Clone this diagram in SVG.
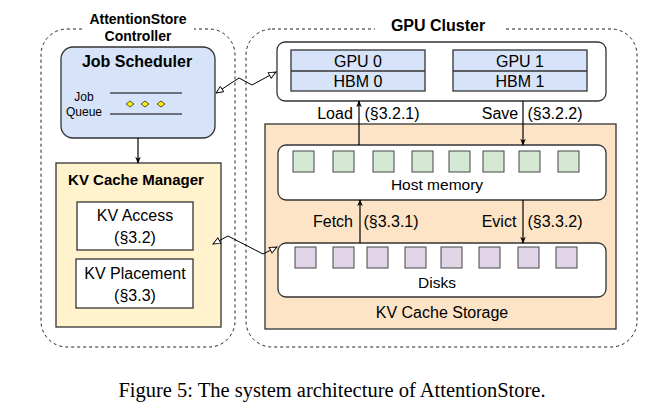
<svg xmlns="http://www.w3.org/2000/svg" width="664" height="420" viewBox="0 0 664 420">
<style>
text{font-family:"Liberation Sans",Arial,sans-serif;fill:#000;text-anchor:middle;dominant-baseline:central}
.b{font-weight:bold}
.dash{fill:none;stroke:#222;stroke-width:1;stroke-dasharray:3 3}
.box{stroke:#333;stroke-width:1.3}
.sq{stroke:#444;stroke-width:1}
.ln{fill:none;stroke:#000;stroke-width:1.2}
.cap{font-family:"Liberation Serif","Times New Roman",serif;font-size:20.5px}
</style>
<defs>
<marker id="a" viewBox="0 0 10 10" refX="9" refY="5" markerWidth="7" markerHeight="7" orient="auto" markerUnits="userSpaceOnUse">
<path d="M0,1 L10,5 L0,9 L3,5 Z" fill="#000"/>
</marker>
<marker id="o" viewBox="0 0 10 10" refX="9" refY="5" markerWidth="9" markerHeight="9" orient="auto" markerUnits="userSpaceOnUse">
<path d="M1,1.5 L9,5 L1,8.5 Z" fill="#fff" stroke="#000" stroke-width="1"/>
</marker>
</defs>

<g id="controller">
<rect class="dash" x="41" y="29" width="194" height="318" rx="26"/>
<rect x="82" y="9" width="112" height="38" fill="#fff"/>
<text class="b" x="138" y="19" font-size="14">AttentionStore</text>
<text class="b" x="138" y="36" font-size="14">Controller</text>
</g>

<g id="gpu-cluster">
<rect class="dash" x="246" y="29" width="391" height="318" rx="26"/>
<rect x="375" y="12" width="128" height="28" fill="#fff"/>
<text class="b" x="438" y="25" font-size="16">GPU Cluster</text>
</g>

<g id="job-scheduler">
<rect class="box" x="61" y="47" width="154" height="91" rx="12" fill="#d6e3f8"/>
<text class="b" x="137" y="61" font-size="16">Job Scheduler</text>
<text x="84" y="97" font-size="12">Job</text>
<text x="84" y="112" font-size="12">Queue</text>
<line x1="110" y1="93" x2="182" y2="93" stroke="#000" stroke-width="1"/>
<line x1="110" y1="114" x2="182" y2="114" stroke="#000" stroke-width="1"/>
<g fill="#ffee00" stroke="#333" stroke-width="0.8">
<path d="M126,104 L130,101 L134,104 L130,107 Z"/>
<path d="M141,104 L145,101 L149,104 L145,107 Z"/>
<path d="M157,104 L161,101 L165,104 L161,107 Z"/>
</g>
</g>

<g id="kv-cache-manager">
<rect class="box" x="56" y="163" width="165" height="164" fill="#fff2cc"/>
<text class="b" x="136" y="179" font-size="15">KV Cache Manager</text>
</g>
<g id="kv-access">
<rect class="box" x="77" y="202" width="116" height="48" fill="#fff"/>
<text x="135" y="215" font-size="16">KV Access</text>
<text x="135" y="237" font-size="16">(§3.2)</text>
</g>
<g id="kv-placement">
<rect class="box" x="76" y="259" width="117" height="49" fill="#fff"/>
<text x="135" y="273" font-size="16">KV Placement</text>
<text x="135" y="295" font-size="16">(§3.3)</text>
</g>

<g id="gpus">
<rect class="box" x="277" y="42" width="329" height="59" rx="8" fill="#fff"/>
</g>
<g id="gpu0">
<rect class="box" x="291" y="50" width="134" height="41" fill="#d6e3f8"/>
<line class="box" x1="291" y1="71" x2="425" y2="71"/>
<text x="358" y="61" font-size="16">GPU 0</text>
<text x="358" y="81" font-size="16">HBM 0</text>
</g>
<g id="gpu1">
<rect class="box" x="453" y="50" width="134" height="41" fill="#d6e3f8"/>
<line class="box" x1="453" y1="71" x2="587" y2="71"/>
<text x="520" y="61" font-size="16">GPU 1</text>
<text x="520" y="81" font-size="16">HBM 1</text>
</g>

<g id="kv-cache-storage">
<rect class="box" x="265" y="124" width="351" height="205" fill="#fde4c6"/>
<text x="442" y="312" font-size="16">KV Cache Storage</text>
</g>

<g id="host-memory">
<rect class="box" x="278" y="145" width="328" height="55" rx="8" fill="#fff"/>
<g class="sq" fill="#d5e8d4">
<rect x="293" y="151" width="21" height="21"/>
<rect x="333" y="151" width="21" height="21"/>
<rect x="373" y="151" width="21" height="21"/>
<rect x="412" y="151" width="21" height="21"/>
<rect x="449" y="151" width="21" height="21"/>
<rect x="483" y="151" width="21" height="21"/>
<rect x="519" y="151" width="21" height="21"/>
<rect x="558" y="151" width="21" height="21"/>
</g>
<text x="437" y="184" font-size="15.5">Host memory</text>
</g>

<g id="disks">
<rect class="box" x="278" y="243" width="328" height="54" rx="8" fill="#fff"/>
<g class="sq" fill="#e1d5e7">
<rect x="295" y="247" width="21" height="21"/>
<rect x="333" y="247" width="21" height="21"/>
<rect x="367" y="247" width="21" height="21"/>
<rect x="405" y="247" width="21" height="21"/>
<rect x="441" y="247" width="21" height="21"/>
<rect x="479" y="247" width="21" height="21"/>
<rect x="518" y="247" width="21" height="21"/>
<rect x="556" y="247" width="21" height="21"/>
</g>
<text x="437" y="282" font-size="15.5">Disks</text>
</g>

<g id="connectors">
<line class="ln" x1="138" y1="138" x2="138" y2="163" marker-end="url(#a)"/>
<line class="ln" x1="359" y1="145" x2="359" y2="101" marker-end="url(#a)"/>
<line class="ln" x1="523" y1="101" x2="523" y2="145" marker-end="url(#a)"/>
<line class="ln" x1="360" y1="243" x2="360" y2="200" marker-end="url(#a)"/>
<line class="ln" x1="523" y1="200" x2="523" y2="243" marker-end="url(#a)"/>
<polyline fill="none" stroke="#000" stroke-width="1" points="239,78 216,93" marker-end="url(#o)"/>
<polyline fill="none" stroke="#000" stroke-width="1" points="239,78 252,85 276,72" marker-end="url(#o)"/>
<polyline fill="none" stroke="#000" stroke-width="1" points="228,236 213,244" marker-end="url(#o)"/>
<polyline fill="none" stroke="#000" stroke-width="1" points="228,236 263,254 277,247" marker-end="url(#o)"/>
<text x="335" y="113" font-size="16">Load</text>
<text x="392" y="113" font-size="16">(§3.2.1)</text>
<text x="500" y="113" font-size="16">Save</text>
<text x="555" y="113" font-size="16">(§3.2.2)</text>
<text x="333" y="221" font-size="16">Fetch</text>
<text x="391" y="221" font-size="16">(§3.3.1)</text>
<text x="499" y="221" font-size="16">Evict</text>
<text x="555" y="221" font-size="16">(§3.3.2)</text>
</g>

<text class="cap" x="332" y="390">Figure 5: The system architecture of AttentionStore.</text>
</svg>
